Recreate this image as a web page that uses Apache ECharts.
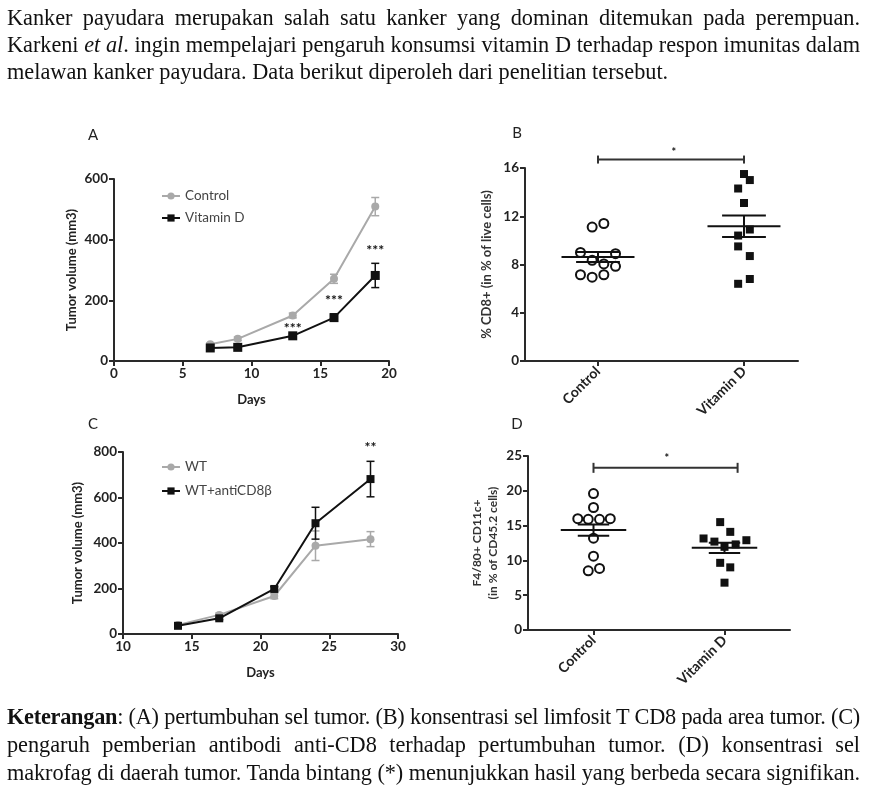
<!DOCTYPE html>
<html>
<head>
<meta charset="utf-8">
<script src="https://cdn.jsdelivr.net/npm/echarts@6/dist/echarts.min.js"></script>
<style>
  html, body { margin: 0; padding: 0; background: #fff; }
  #chart { position: absolute; left: 0; top: 0; width: 878px; height: 798px; }
  .para { position: absolute; left: 7px; width: 853px; font-family: "Liberation Serif", serif; font-size: 22.3px; color: #111; }
  .ln { text-align: justify; text-align-last: justify; overflow: hidden; }
  .ln.last { text-align-last: left; }
</style>
</head>
<body>
<div id="chart"></div>
<div class="para" style="top:4px; line-height:27px">
  <div class="ln">Kanker payudara merupakan salah satu kanker yang dominan ditemukan pada perempuan.</div>
  <div class="ln">Karkeni <i>et al</i>. ingin mempelajari pengaruh konsumsi vitamin D terhadap respon imunitas dalam</div>
  <div class="ln last">melawan kanker payudara. Data berikut diperoleh dari penelitian tersebut.</div>
</div>
<div class="para" style="top:703px; line-height:28px">
  <div class="ln"><b>Keterangan</b>: (A) pertumbuhan sel tumor. (B) konsentrasi sel limfosit T CD8 pada area tumor. (C)</div>
  <div class="ln">pengaruh pemberian antibodi anti-CD8 terhadap pertumbuhan tumor. (D) konsentrasi sel</div>
  <div class="ln">makrofag di daerah tumor. Tanda bintang (*) menunjukkan hasil yang berbeda secara signifikan.</div>
</div>
<script>
// ---- data ----
// A: tumour growth, control vs vitamin D
var daysA = [7, 9, 13, 16, 19];
var controlA = [55, 73, 150, 271, 509];
var controlAErr = [5, 6, 8, 15, 30];
var vitDA = [43, 45, 83, 143, 282];
var vitDAErr = [5, 5, 6, 12, 40];
var starDaysA = [13, 16, 19];
var starLevelA = [122, 212, 378];
var starTextA = ['***', '***', '***'];

// B: % CD8+ of live cells
var groupLabels = ['Control', 'Vitamin D'];
var controlB = [11.1, 11.4, 9.0, 8.9, 8.35, 8.05, 7.85, 7.15, 6.95, 7.15];
var controlBJitter = [-0.04, 0.04, -0.12, 0.12, -0.04, 0.04, 0.12, -0.12, -0.04, 0.04];
var vitDB = [15.5, 15.0, 14.3, 13.1, 10.9, 10.4, 9.5, 8.7, 6.4, 6.8];
var vitDBJitter = [0, 0.04, -0.04, 0, 0.04, -0.04, -0.04, 0.04, -0.04, 0.04];
var meanB = [8.62, 11.17];
var semB = [0.42, 0.9];
var bracketB = [0, 1, 16.7];
var starB = [0.52, 17.6, '*'];

// C: tumour growth, WT vs WT+antiCD8β
var daysC = [14, 17, 21, 24, 28];
var wtC = [40, 84, 167, 388, 417];
var wtCErr = [5, 8, 12, 65, 33];
var antiC = [36, 69, 198, 487, 681];
var antiCErr = [5, 6, 10, 70, 78];
var starDaysC = [28];
var starLevelC = [840];
var starTextC = ['**'];

// D: F4/80+ CD11c+ (% of CD45.2 cells)
var controlD = [19.6, 17.6, 16.0, 15.9, 15.9, 16.0, 13.2, 10.6, 8.5, 8.85];
var controlDJitter = [0, 0, -0.12, -0.04, 0.046, 0.128, 0, 0, -0.04, 0.046];
var vitDD = [15.5, 14.1, 13.15, 12.7, 12.9, 12.3, 11.95, 9.65, 9.0, 6.8];
var vitDDJitter = [-0.033, 0.044, -0.16, -0.077, 0.167, 0.085, 0, -0.033, 0.044, 0];
var meanD = [14.35, 11.8];
var semD = [0.8, 0.75];
var bracketD = [0, 1.1, 23.3];
var starD = [0.56, 25.1, '*'];

// ---- fit paragraph lines so justification keeps the same breaks ----
document.querySelectorAll('.ln').forEach(function (el) {
  var s = document.createElement('span');
  s.style.whiteSpace = 'nowrap';
  s.innerHTML = el.innerHTML;
  el.innerHTML = '';
  el.appendChild(s);
  var w = s.getBoundingClientRect().width;
  var W = el.clientWidth - 2;
  if (w > W) el.style.letterSpacing = ((W - w) / s.textContent.length) + 'px';
  el.innerHTML = s.innerHTML;
});

// ---- chart ----
var fontFam = 'Lato, "Liberation Sans", sans-serif';
var ink = '#2a2a2a';
var grey = '#a9a9a9';

function axisBase(gi, extra) {
  var a = {
    gridIndex: gi,
    type: 'value',
    axisLine: { show: true, onZero: false, lineStyle: { color: ink, width: 2 } },
    axisTick: { show: true, length: 5, lineStyle: { color: ink, width: 2 } },
    axisLabel: { color: '#222', fontFamily: fontFam, fontWeight: 'bold', fontSize: 13.5, margin: 6 },
    splitLine: { show: false },
    nameLocation: 'middle',
    nameTextStyle: { color: '#222', fontFamily: fontFam, fontWeight: 'bold', fontSize: 13 }
  };
  for (var k in extra) a[k] = extra[k];
  return a;
}

function groupAxis(gi, max) {
  var a = axisBase(gi, { min: -0.5, max: max, interval: 0.5 });
  a.axisTick.customValues = [0, 1];
  a.axisLabel.customValues = [0, 1];
  a.axisLabel.rotate = 45;
  a.axisLabel.margin = 8;
  a.axisLabel.fontSize = 14;
  a.axisLabel.formatter = function (v) { return groupLabels[Math.round(v)]; };
  return a;
}

function pairs(xs, ys) { return xs.map(function (x, i) { return [x, ys[i]]; }); }

function errorBars(gi, xs, ys, errs, color) {
  return {
    type: 'custom', xAxisIndex: gi, yAxisIndex: gi, z: 1, silent: true,
    data: xs.map(function (x, i) { return [x, ys[i] - errs[i], ys[i] + errs[i]]; }),
    renderItem: function (p, api) {
      var lo = api.coord([api.value(0), api.value(1)]);
      var hi = api.coord([api.value(0), api.value(2)]);
      var st = { stroke: color, lineWidth: 1.5 };
      return { type: 'group', children: [
        { type: 'line', shape: { x1: lo[0], y1: lo[1], x2: hi[0], y2: hi[1] }, style: st },
        { type: 'line', shape: { x1: hi[0] - 4, y1: hi[1], x2: hi[0] + 4, y2: hi[1] }, style: st },
        { type: 'line', shape: { x1: lo[0] - 4, y1: lo[1], x2: lo[0] + 4, y2: lo[1] }, style: st }
      ] };
    }
  };
}

function stars(gi, xs, ys, texts, size) {
  return {
    type: 'custom', xAxisIndex: gi, yAxisIndex: gi, z: 5, silent: true,
    data: pairs(xs, ys),
    renderItem: function (p, api) {
      var c = api.coord([api.value(0), api.value(1)]);
      return { type: 'text', x: c[0], y: c[1] + size * 0.3,
        style: { text: texts[p.dataIndex], fill: '#111', font: 'bold ' + size + 'px ' + fontFam,
                 align: 'center', verticalAlign: 'middle' } };
    }
  };
}

function meanSem(gi, means, sems, halfW, capW) {
  return {
    type: 'custom', xAxisIndex: gi, yAxisIndex: gi, z: 4, silent: true,
    data: means.map(function (m, i) { return [i, m, sems[i]]; }),
    renderItem: function (p, api) {
      var x = api.value(0), m = api.value(1), s = api.value(2);
      var L = api.coord([x - halfW, m]), R = api.coord([x + halfW, m]);
      var T = api.coord([x, m + s]), B = api.coord([x, m - s]);
      var cw = api.size([capW, 0])[0];
      var st = { stroke: '#111', lineWidth: 2 };
      return { type: 'group', children: [
        { type: 'line', shape: { x1: L[0], y1: L[1], x2: R[0], y2: R[1] }, style: st },
        { type: 'line', shape: { x1: T[0], y1: T[1], x2: B[0], y2: B[1] }, style: st },
        { type: 'line', shape: { x1: T[0] - cw, y1: T[1], x2: T[0] + cw, y2: T[1] }, style: st },
        { type: 'line', shape: { x1: B[0] - cw, y1: B[1], x2: B[0] + cw, y2: B[1] }, style: st }
      ] };
    }
  };
}

function bracket(gi, b, endPx) {
  return {
    type: 'custom', xAxisIndex: gi, yAxisIndex: gi, z: 4, silent: true,
    data: [b],
    renderItem: function (p, api) {
      var a = api.coord([api.value(0), api.value(2)]);
      var c = api.coord([api.value(1), api.value(2)]);
      var st = { stroke: '#333', lineWidth: 2 };
      return { type: 'group', children: [
        { type: 'line', shape: { x1: a[0], y1: a[1], x2: c[0], y2: c[1] }, style: st },
        { type: 'line', shape: { x1: a[0], y1: a[1] - endPx, x2: a[0], y2: a[1] + endPx }, style: st },
        { type: 'line', shape: { x1: c[0], y1: c[1] - endPx, x2: c[0], y2: c[1] + endPx }, style: st }
      ] };
    }
  };
}

function jittered(vals, jit, center) {
  return vals.map(function (v, i) { return [center + jit[i], v]; });
}

var legendText = { color: '#444', fontFamily: fontFam, fontSize: 13.5 };
var openCircle = { color: '#fff', borderColor: '#111', borderWidth: 2, opacity: 1 };
var blackSquare = { color: '#111', opacity: 1 };

var option = {
  animation: false,
  backgroundColor: 'transparent',
  grid: [
    { left: 114, top: 179, width: 275, height: 182, outerBoundsMode: 'none' },
    { left: 525, top: 168, width: 273, height: 193, outerBoundsMode: 'none' },
    { left: 123, top: 452, width: 275, height: 182, outerBoundsMode: 'none' },
    { left: 528, top: 456, width: 262, height: 174, outerBoundsMode: 'none' }
  ],
  legend: [
    { data: ['Control', 'Vitamin D'], orient: 'vertical', left: 156, top: 184, itemWidth: 18, itemHeight: 9,
      itemGap: 8, textStyle: legendText, selectedMode: false },
    { data: ['WT', 'WT+antiCD8β'], orient: 'vertical', left: 156, top: 455, itemWidth: 18, itemHeight: 9,
      itemGap: 10, textStyle: legendText, selectedMode: false }
  ],
  xAxis: [
    axisBase(0, { min: 0, max: 20, interval: 5, name: 'Days', nameGap: 32 }),
    groupAxis(1, 1.37),
    axisBase(2, { min: 10, max: 30, interval: 5, name: 'Days', nameGap: 32 }),
    groupAxis(3, 1.5)
  ],
  yAxis: [
    axisBase(0, { min: 0, max: 600, interval: 200, name: 'Tumor volume (mm3)', nameGap: 36 }),
    axisBase(1, { min: 0, max: 16, interval: 4, name: '% CD8+ (in % of live cells)', nameGap: 32,
      nameTextStyle: { color: '#333', fontFamily: fontFam, fontWeight: 'bold', fontSize: 13 } }),
    axisBase(2, { min: 0, max: 800, interval: 200, name: 'Tumor volume (mm3)', nameGap: 39 }),
    axisBase(3, { min: 0, max: 25, interval: 5, name: 'F4/80+ CD11c+\n(in % of CD45.2 cells)', nameGap: 27,
      nameTextStyle: { color: '#333', fontFamily: fontFam, fontWeight: 'bold', fontSize: 12, lineHeight: 16 } })
  ],
  graphic: [
    { type: 'text', x: 93, y: 135, style: { text: 'A', font: '15px ' + fontFam, fill: '#222', align: 'center', verticalAlign: 'middle' } },
    { type: 'text', x: 517, y: 133, style: { text: 'B', font: '15px ' + fontFam, fill: '#222', align: 'center', verticalAlign: 'middle' } },
    { type: 'text', x: 93, y: 424, style: { text: 'C', font: '15px ' + fontFam, fill: '#222', align: 'center', verticalAlign: 'middle' } },
    { type: 'text', x: 517, y: 424, style: { text: 'D', font: '15px ' + fontFam, fill: '#222', align: 'center', verticalAlign: 'middle' } }
  ],
  series: [
    // A
    errorBars(0, daysA, controlA, controlAErr, grey),
    errorBars(0, daysA, vitDA, vitDAErr, '#111'),
    { name: 'Control', type: 'line', xAxisIndex: 0, yAxisIndex: 0, data: pairs(daysA, controlA), z: 2,
      symbol: 'circle', symbolSize: 8, itemStyle: { color: grey }, lineStyle: { color: grey, width: 2 } },
    { name: 'Vitamin D', type: 'line', xAxisIndex: 0, yAxisIndex: 0, data: pairs(daysA, vitDA), z: 3,
      symbol: 'rect', symbolSize: 9, itemStyle: { color: '#111' }, lineStyle: { color: '#111', width: 2 } },
    stars(0, starDaysA, starLevelA, starTextA, 14),
    // B
    { type: 'scatter', xAxisIndex: 1, yAxisIndex: 1, data: jittered(controlB, controlBJitter, 0), z: 3,
      symbol: 'circle', symbolSize: 9, itemStyle: openCircle },
    { type: 'scatter', xAxisIndex: 1, yAxisIndex: 1, data: jittered(vitDB, vitDBJitter, 1), z: 3,
      symbol: 'rect', symbolSize: 8, itemStyle: blackSquare },
    meanSem(1, meanB, semB, 0.25, 0.15),
    bracket(1, bracketB, 4),
    stars(1, [starB[0]], [starB[1]], [starB[2]], 11),
    // C
    errorBars(2, daysC, wtC, wtCErr, grey),
    errorBars(2, daysC, antiC, antiCErr, '#111'),
    { name: 'WT', type: 'line', xAxisIndex: 2, yAxisIndex: 2, data: pairs(daysC, wtC), z: 2,
      symbol: 'circle', symbolSize: 8, itemStyle: { color: grey }, lineStyle: { color: grey, width: 2 } },
    { name: 'WT+antiCD8β', type: 'line', xAxisIndex: 2, yAxisIndex: 2, data: pairs(daysC, antiC), z: 3,
      symbol: 'rect', symbolSize: 8, itemStyle: { color: '#111' }, lineStyle: { color: '#111', width: 2 } },
    stars(2, starDaysC, starLevelC, starTextC, 14),
    // D
    { type: 'scatter', xAxisIndex: 3, yAxisIndex: 3, data: jittered(controlD, controlDJitter, 0), z: 3,
      symbol: 'circle', symbolSize: 9, itemStyle: openCircle },
    { type: 'scatter', xAxisIndex: 3, yAxisIndex: 3, data: jittered(vitDD, vitDDJitter, 1), z: 3,
      symbol: 'rect', symbolSize: 8, itemStyle: blackSquare },
    meanSem(3, meanD, semD, 0.25, 0.12),
    bracket(3, bracketD, 5),
    stars(3, [starD[0]], [starD[1]], [starD[2]], 11)
  ]
};

var chart = echarts.init(document.getElementById('chart'), null, { renderer: 'canvas' });
chart.setOption(option);
</script>
</body>
</html>
